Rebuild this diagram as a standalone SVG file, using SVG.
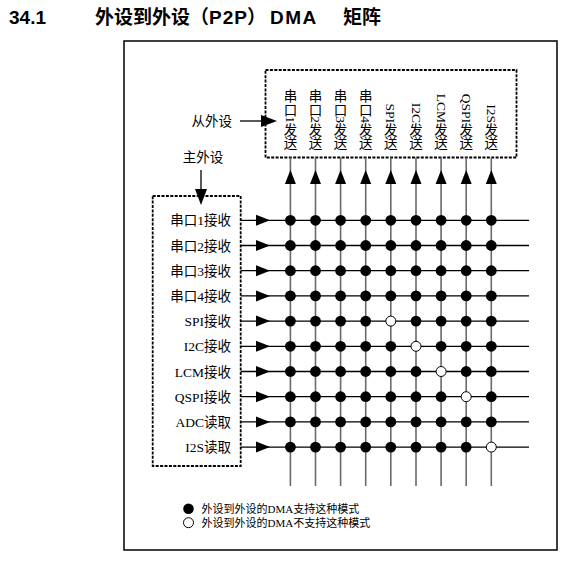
<svg xmlns="http://www.w3.org/2000/svg" width="571" height="563" viewBox="0 0 571 563">
<style>
.title{font-family:"Liberation Sans","Noto Sans CJK SC",sans-serif;font-weight:bold;font-size:19px;fill:#000}
.lbl{font-family:"Liberation Serif","Noto Sans CJK SC",serif;font-size:13.5px;fill:#000}
.vc{font-family:"Liberation Serif","Noto Sans CJK SC",serif;font-size:13.5px;fill:#000;text-anchor:middle}
.vl{font-family:"Liberation Serif","Noto Sans CJK SC",serif;font-size:13.5px;fill:#000;dominant-baseline:central}
.leg{font-family:"Liberation Serif","Noto Sans CJK SC",serif;font-size:11px;fill:#000}
.frame{fill:none;stroke:#000;stroke-width:1.5}
.dash{fill:none;stroke:#000;stroke-width:1.8;stroke-dasharray:3 1.4}
.h{stroke:#000;stroke-width:1.3;fill:none}
.v{stroke:#6a6a6a;stroke-width:1.6;fill:none}
.ah{fill:#000;stroke:none}
.on{fill:#000;stroke:none}
.off{fill:#fff;stroke:#000;stroke-width:1}
</style>
<rect width="571" height="563" fill="#fff"/>
<g id="title">
<text class="title" x="9" y="24">34.1</text>
<text class="title" y="24"><tspan x="95">外设到外设</tspan><tspan x="190">（</tspan><tspan x="209" letter-spacing="1">P2P</tspan><tspan x="247">）</tspan><tspan x="270" letter-spacing="1.5">DMA</tspan><tspan x="343">矩阵</tspan></text>
</g>
<rect id="frame" class="frame" x="124" y="41" width="433" height="509"/>
<g id="slave-box">
<rect class="dash" x="265.5" y="70" width="251" height="87.5"/>
<g id="tx-uart1"><text class="vc" x="290.4" y="101.1">串</text><text class="vc" x="290.4" y="114.6">口</text><text class="vl" transform="translate(290.4,116.25) rotate(90)">1</text><text class="vc" x="290.4" y="134.85">发</text><text class="vc" x="290.4" y="148.35">送</text></g>
<g id="tx-uart2"><text class="vc" x="315.5" y="101.1">串</text><text class="vc" x="315.5" y="114.6">口</text><text class="vl" transform="translate(315.5,116.25) rotate(90)">2</text><text class="vc" x="315.5" y="134.85">发</text><text class="vc" x="315.5" y="148.35">送</text></g>
<g id="tx-uart3"><text class="vc" x="340.6" y="101.1">串</text><text class="vc" x="340.6" y="114.6">口</text><text class="vl" transform="translate(340.6,116.25) rotate(90)">3</text><text class="vc" x="340.6" y="134.85">发</text><text class="vc" x="340.6" y="148.35">送</text></g>
<g id="tx-uart4"><text class="vc" x="365.7" y="101.1">串</text><text class="vc" x="365.7" y="114.6">口</text><text class="vl" transform="translate(365.7,116.25) rotate(90)">4</text><text class="vc" x="365.7" y="134.85">发</text><text class="vc" x="365.7" y="148.35">送</text></g>
<g id="tx-spi"><text class="vl" transform="translate(390.8,103.5) rotate(90)">SPI</text><text class="vc" x="390.8" y="134.85">发</text><text class="vc" x="390.8" y="148.35">送</text></g>
<g id="tx-i2c"><text class="vl" transform="translate(416,102.75) rotate(90)">I2C</text><text class="vc" x="416" y="134.85">发</text><text class="vc" x="416" y="148.35">送</text></g>
<g id="tx-lcm"><text class="vl" transform="translate(441.1,93.75) rotate(90)">LCM</text><text class="vc" x="441.1" y="134.85">发</text><text class="vc" x="441.1" y="148.35">送</text></g>
<g id="tx-qspi"><text class="vl" transform="translate(466.2,93.75) rotate(90)">QSPI</text><text class="vc" x="466.2" y="134.85">发</text><text class="vc" x="466.2" y="148.35">送</text></g>
<g id="tx-i2s"><text class="vl" transform="translate(491.3,104.25) rotate(90)">I2S</text><text class="vc" x="491.3" y="134.85">发</text><text class="vc" x="491.3" y="148.35">送</text></g>
</g>
<g id="slave-label">
<text class="lbl" x="232" y="126" text-anchor="end">从外设</text>
</g>
<g id="master-label">
<text class="lbl" x="203" y="162" text-anchor="middle">主外设</text>
</g>
<g id="master-box">
<rect class="dash" x="152.7" y="196" width="88" height="270"/>
<text class="lbl" x="231" y="225.3" text-anchor="end">串口1接收</text>
<text class="lbl" x="231" y="250.5" text-anchor="end">串口2接收</text>
<text class="lbl" x="231" y="275.7" text-anchor="end">串口3接收</text>
<text class="lbl" x="231" y="300.9" text-anchor="end">串口4接收</text>
<text class="lbl" x="231" y="326.1" text-anchor="end">SPI接收</text>
<text class="lbl" x="231" y="351.3" text-anchor="end">I2C接收</text>
<text class="lbl" x="231" y="376.5" text-anchor="end">LCM接收</text>
<text class="lbl" x="231" y="401.7" text-anchor="end">QSPI接收</text>
<text class="lbl" x="231" y="426.9" text-anchor="end">ADC读取</text>
<text class="lbl" x="231" y="452.1" text-anchor="end">I2S读取</text>
</g>
<g id="connectors">
<path class="h" d="M240 121H264"/>
<polygon class="ah" points="261,115 277,121 261,127"/>
<path class="h" d="M201 170V192"/>
<polygon class="ah" points="195,189 201,205 207,189"/>
<path class="v" d="M290.4 157.5V486M315.5 157.5V486M340.6 157.5V486M365.7 157.5V486M390.8 157.5V486M416 157.5V486M441.1 157.5V486M466.2 157.5V486M491.3 157.5V486"/>
<path class="h" d="M240.7 220.3H529M240.7 245.5H529M240.7 270.7H529M240.7 295.9H529M240.7 321.1H529M240.7 346.3H529M240.7 371.5H529M240.7 396.7H529M240.7 421.9H529M240.7 447.1H529"/>
<g class="ah">
<polygon points="284.9,184 290.4,170 295.9,184"/>
<polygon points="310,184 315.5,170 321,184"/>
<polygon points="335.1,184 340.6,170 346.1,184"/>
<polygon points="360.2,184 365.7,170 371.2,184"/>
<polygon points="385.3,184 390.8,170 396.3,184"/>
<polygon points="410.5,184 416,170 421.5,184"/>
<polygon points="435.6,184 441.1,170 446.6,184"/>
<polygon points="460.7,184 466.2,170 471.7,184"/>
<polygon points="485.8,184 491.3,170 496.8,184"/>
<polygon points="256,214.8 270,220.3 256,225.8"/>
<polygon points="256,240 270,245.5 256,251"/>
<polygon points="256,265.2 270,270.7 256,276.2"/>
<polygon points="256,290.4 270,295.9 256,301.4"/>
<polygon points="256,315.6 270,321.1 256,326.6"/>
<polygon points="256,340.8 270,346.3 256,351.8"/>
<polygon points="256,366 270,371.5 256,377"/>
<polygon points="256,391.2 270,396.7 256,402.2"/>
<polygon points="256,416.4 270,421.9 256,427.4"/>
<polygon points="256,441.6 270,447.1 256,452.6"/>
</g>
</g>
<g id="matrix">
<g class="on">
<circle cx="290.4" cy="220.3" r="5.4"/><circle cx="315.5" cy="220.3" r="5.4"/><circle cx="340.6" cy="220.3" r="5.4"/><circle cx="365.7" cy="220.3" r="5.4"/><circle cx="390.8" cy="220.3" r="5.4"/><circle cx="416" cy="220.3" r="5.4"/><circle cx="441.1" cy="220.3" r="5.4"/><circle cx="466.2" cy="220.3" r="5.4"/><circle cx="491.3" cy="220.3" r="5.4"/>
<circle cx="290.4" cy="245.5" r="5.4"/><circle cx="315.5" cy="245.5" r="5.4"/><circle cx="340.6" cy="245.5" r="5.4"/><circle cx="365.7" cy="245.5" r="5.4"/><circle cx="390.8" cy="245.5" r="5.4"/><circle cx="416" cy="245.5" r="5.4"/><circle cx="441.1" cy="245.5" r="5.4"/><circle cx="466.2" cy="245.5" r="5.4"/><circle cx="491.3" cy="245.5" r="5.4"/>
<circle cx="290.4" cy="270.7" r="5.4"/><circle cx="315.5" cy="270.7" r="5.4"/><circle cx="340.6" cy="270.7" r="5.4"/><circle cx="365.7" cy="270.7" r="5.4"/><circle cx="390.8" cy="270.7" r="5.4"/><circle cx="416" cy="270.7" r="5.4"/><circle cx="441.1" cy="270.7" r="5.4"/><circle cx="466.2" cy="270.7" r="5.4"/><circle cx="491.3" cy="270.7" r="5.4"/>
<circle cx="290.4" cy="295.9" r="5.4"/><circle cx="315.5" cy="295.9" r="5.4"/><circle cx="340.6" cy="295.9" r="5.4"/><circle cx="365.7" cy="295.9" r="5.4"/><circle cx="390.8" cy="295.9" r="5.4"/><circle cx="416" cy="295.9" r="5.4"/><circle cx="441.1" cy="295.9" r="5.4"/><circle cx="466.2" cy="295.9" r="5.4"/><circle cx="491.3" cy="295.9" r="5.4"/>
<circle cx="290.4" cy="321.1" r="5.4"/><circle cx="315.5" cy="321.1" r="5.4"/><circle cx="340.6" cy="321.1" r="5.4"/><circle cx="365.7" cy="321.1" r="5.4"/><circle cx="416" cy="321.1" r="5.4"/><circle cx="441.1" cy="321.1" r="5.4"/><circle cx="466.2" cy="321.1" r="5.4"/><circle cx="491.3" cy="321.1" r="5.4"/>
<circle cx="290.4" cy="346.3" r="5.4"/><circle cx="315.5" cy="346.3" r="5.4"/><circle cx="340.6" cy="346.3" r="5.4"/><circle cx="365.7" cy="346.3" r="5.4"/><circle cx="390.8" cy="346.3" r="5.4"/><circle cx="441.1" cy="346.3" r="5.4"/><circle cx="466.2" cy="346.3" r="5.4"/><circle cx="491.3" cy="346.3" r="5.4"/>
<circle cx="290.4" cy="371.5" r="5.4"/><circle cx="315.5" cy="371.5" r="5.4"/><circle cx="340.6" cy="371.5" r="5.4"/><circle cx="365.7" cy="371.5" r="5.4"/><circle cx="390.8" cy="371.5" r="5.4"/><circle cx="416" cy="371.5" r="5.4"/><circle cx="466.2" cy="371.5" r="5.4"/><circle cx="491.3" cy="371.5" r="5.4"/>
<circle cx="290.4" cy="396.7" r="5.4"/><circle cx="315.5" cy="396.7" r="5.4"/><circle cx="340.6" cy="396.7" r="5.4"/><circle cx="365.7" cy="396.7" r="5.4"/><circle cx="390.8" cy="396.7" r="5.4"/><circle cx="416" cy="396.7" r="5.4"/><circle cx="441.1" cy="396.7" r="5.4"/><circle cx="491.3" cy="396.7" r="5.4"/>
<circle cx="290.4" cy="421.9" r="5.4"/><circle cx="315.5" cy="421.9" r="5.4"/><circle cx="340.6" cy="421.9" r="5.4"/><circle cx="365.7" cy="421.9" r="5.4"/><circle cx="390.8" cy="421.9" r="5.4"/><circle cx="416" cy="421.9" r="5.4"/><circle cx="441.1" cy="421.9" r="5.4"/><circle cx="466.2" cy="421.9" r="5.4"/><circle cx="491.3" cy="421.9" r="5.4"/>
<circle cx="290.4" cy="447.1" r="5.4"/><circle cx="315.5" cy="447.1" r="5.4"/><circle cx="340.6" cy="447.1" r="5.4"/><circle cx="365.7" cy="447.1" r="5.4"/><circle cx="390.8" cy="447.1" r="5.4"/><circle cx="416" cy="447.1" r="5.4"/><circle cx="441.1" cy="447.1" r="5.4"/><circle cx="466.2" cy="447.1" r="5.4"/>
</g>
<g class="off">
<circle cx="390.8" cy="321.1" r="5"/>
<circle cx="416" cy="346.3" r="5"/>
<circle cx="441.1" cy="371.5" r="5"/>
<circle cx="466.2" cy="396.7" r="5"/>
<circle cx="491.3" cy="447.1" r="5"/>
</g>
</g>
<g id="legend">
<circle class="on" cx="188.5" cy="508.7" r="5.3"/>
<circle class="off" cx="188.5" cy="522.7" r="5"/>
<text class="leg" x="201.5" y="512.7">外设到外设的DMA支持这种模式</text>
<text class="leg" x="201.5" y="526.7">外设到外设的DMA不支持这种模式</text>
</g>
</svg>
